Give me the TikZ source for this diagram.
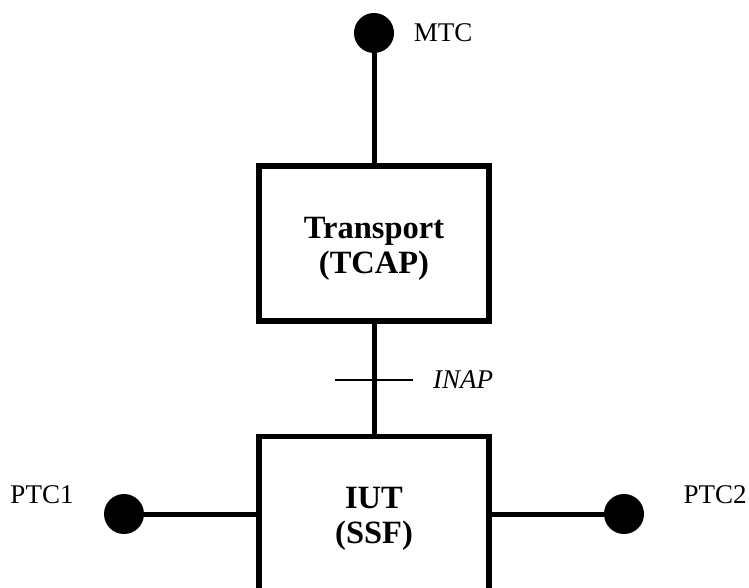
\documentclass[tikz,border=0pt]{standalone}
\usepackage{fontspec}
\setmainfont{Liberation Serif}
\newcommand{\blocktext}[1]{\raisebox{-5pt}[\height][\depth]{\begin{tabular}{@{}c@{}}#1\end{tabular}}}
\begin{document}
\begin{tikzpicture}[
    x=1pt, y=-1pt,
    block/.style={rectangle, draw, line width=5.5pt, minimum width=230pt, minimum height=155pt, font=\fontsize{32.5}{35}\selectfont\bfseries},
    tc/.style={circle, fill=black, inner sep=0pt, minimum size=40pt},
    link/.style={line width=5pt},
    tag/.style={font=\fontsize{27}{32}\selectfont}
]
    \useasboundingbox (0,0) rectangle (749,588);
    \clip (0,0) rectangle (749,588);
    \node[block] (transport) at (374,243.5) {\blocktext{Transport\\(TCAP)}};
    \node[block] (iut) at (374,514) {\blocktext{IUT\\(SSF)}};
    \node[tc] (mtc) at (374,33) {};
    \node[tc] (ptcA) at (124,514) {};
    \node[tc] (ptcB) at (624,514) {};
    \node[tag] (mtclabel) at (443,33) {MTC};
    \node[tag] (ptcAlabel) at (42,495) {PTC1};
    \node[tag] (ptcBlabel) at (715,495) {PTC2};
    \node[tag, font=\fontsize{27}{32}\selectfont\itshape] (inap) at (463,380) {INAP};
    \coordinate (inapL) at (335,380);
    \coordinate (inapR) at (413,380);
    
    \draw[link] (mtc) -- (transport);
    \draw[link] (transport) -- (iut);
    \draw[link] (ptcA) -- (iut);
    \draw[link] (ptcB) -- (iut);
    \draw[line width=2pt] (inapL) -- (inapR);
\end{tikzpicture}
\end{document}
